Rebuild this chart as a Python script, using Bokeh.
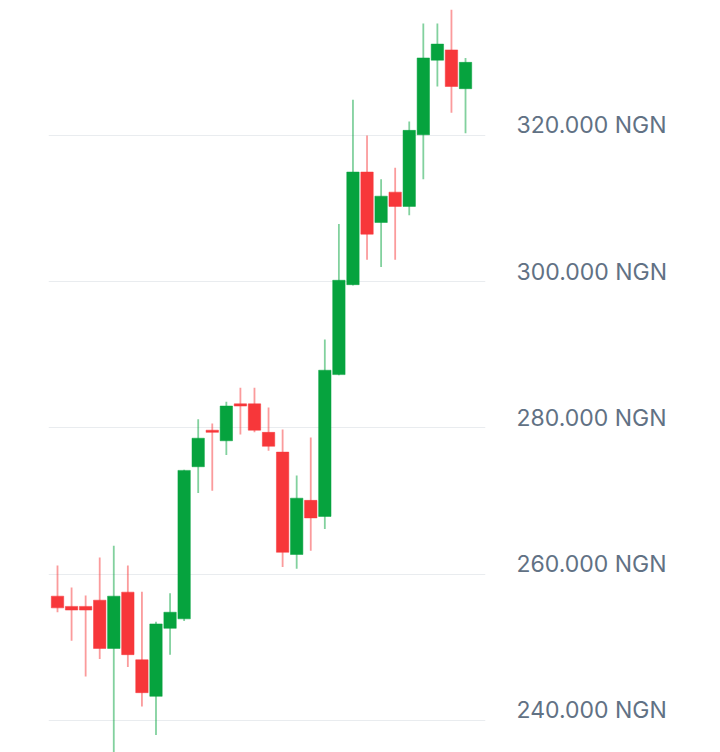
from bokeh.plotting import figure
from bokeh.models import ColumnDataSource, LinearAxis, FixedTicker, Range1d
from bokeh.embed import file_html
from bokeh.resources import INLINE

# candle data (values in NGN)
opens  = [257000, 255600, 255600, 256450, 249850, 257550, 248300, 243300, 252600, 253900,
          274700, 279700, 278250, 283300, 283300, 279400, 276700, 262700, 270100, 267900,
          287300, 299600, 315000, 308100, 312250, 310300, 320100, 330300, 331700, 326400]
closes = [255400, 255100, 255100, 249850, 257000, 249000, 243800, 253200, 254800, 274200,
          278600, 279400, 283000, 283000, 279700, 277500, 263000, 270400, 267700, 287900,
          300200, 315000, 306500, 311700, 310300, 320700, 330600, 332500, 326700, 330000]
highs  = [261200, 258200, 257100, 262300, 263900, 261200, 257600, 253500, 257400, 274300,
          281200, 280600, 283600, 285500, 285500, 282800, 279800, 273500, 278700, 292100,
          307900, 324900, 320000, 314000, 315600, 321900, 335300, 335300, 337200, 330600]
lows   = [254800, 250900, 246000, 248400, 234000, 247300, 241900, 238000, 249000, 253600,
          271100, 271400, 276300, 279100, 279400, 276900, 261000, 260750, 263200, 266200,
          287200, 299500, 303000, 302000, 303000, 309100, 314000, 326700, 323100, 320300]

tick_values = [240000, 260000, 280000, 300000, 320000]
tick_labels = ["240.000 NGN", "260.000 NGN", "280.000 NGN", "300.000 NGN", "320.000 NGN"]

GREEN = "#06A33E"
RED = "#F7373A"

idx = list(range(len(opens)))
body_col = [GREEN if c >= o else RED for o, c in zip(opens, closes)]
top = [max(o, c) for o, c in zip(opens, closes)]
bot = [min(o, c) for o, c in zip(opens, closes)]

src = ColumnDataSource(dict(x=idx, open=opens, close=closes, high=highs, low=lows,
                            top=top, bottom=bot, color=body_col))

Y0, Y1 = 235620, 338460
LABEL_SHIFT = 1370  # labels sit slightly above their grid lines

p = figure(width=720, height=752, output_backend="svg", toolbar_location=None,
           x_range=Range1d(-0.64, 30.42), y_range=Range1d(Y0, Y1),
           min_border_left=48, min_border_right=235, min_border_top=0, min_border_bottom=0,
           y_axis_location=None, x_axis_location=None)
p.extra_y_ranges = {"labels": Range1d(Y0 - LABEL_SHIFT, Y1 - LABEL_SHIFT)}
p.outline_line_color = None
p.background_fill_color = "white"
p.border_fill_color = "white"

p.segment(x0="x", y0="low", x1="x", y1="high", source=src, line_color="color",
          line_alpha=0.5, line_width=1.8)
p.vbar(x="x", width=0.88, top="top", bottom="bottom", source=src,
       fill_color="color", line_color="color", line_width=0.5)

yaxis = LinearAxis(ticker=FixedTicker(ticks=tick_values), y_range_name="labels")
yaxis.major_label_overrides = {v: l for v, l in zip(tick_values, tick_labels)}
yaxis.axis_line_color = None
yaxis.major_tick_line_color = None
yaxis.minor_tick_line_color = None
yaxis.major_label_standoff = 25
yaxis.major_label_text_font = "Inter"
yaxis.major_label_text_font_size = "23px"
yaxis.major_label_text_color = "#617184"
p.add_layout(yaxis, "right")

p.ygrid.ticker = FixedTicker(ticks=tick_values)
p.ygrid.grid_line_color = "#E9ECEF"
p.ygrid.grid_line_width = 1
p.xgrid.visible = False

open("out.html", "w").write(file_html(p, INLINE))
